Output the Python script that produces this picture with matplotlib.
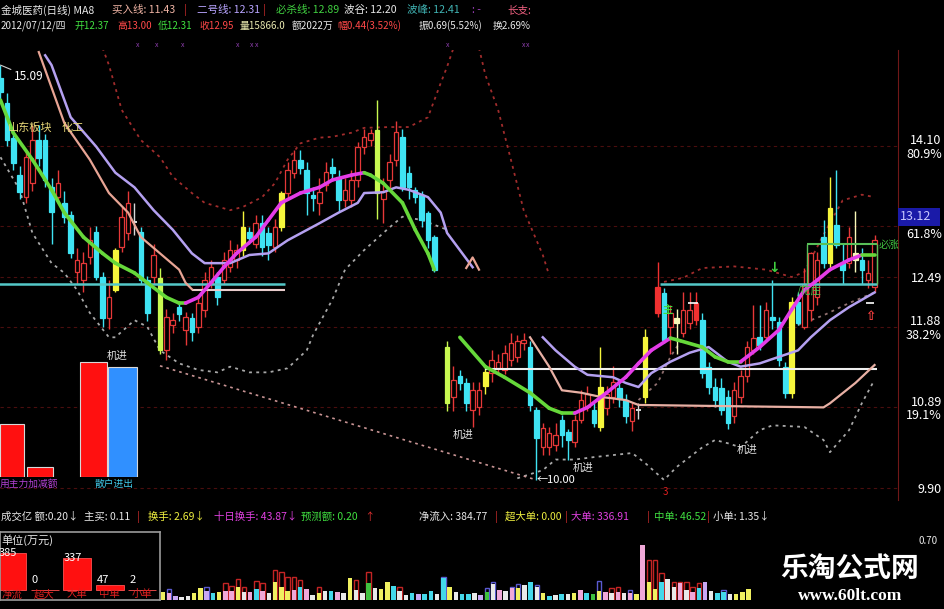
import numpy as np
import matplotlib
matplotlib.use("Agg")
import matplotlib.pyplot as plt
from matplotlib.patches import Rectangle

plt.rcParams['font.family'] = ['Noto Sans CJK SC', 'DejaVu Sans']
plt.rcParams['axes.unicode_minus'] = False

N = np.nan

# ---------------- candle data (index = trading day slot) ----------------
candle_open = [
    14.93, 14.62, 14.19, 13.74, 13.47, 13.64, 14.17, 14.17, 13.59, 13.47,
    13.40, 13.25, 12.55, 12.45, 12.73, 13.04, 12.49, 11.99, 12.82, 12.86,
    13.03, 13.17, 13.04, 12.45, 12.49, 12.48, 11.60, 11.90, 12.12, 11.84,
    11.99, 11.88, 12.09, 12.41, 12.49, 12.45, 12.61, 12.70, 12.82, 13.04,
    12.90, 13.15, 13.03, 12.86, 13.10, 13.52, 13.77, 13.93, 13.80, 13.50,
    13.40, 13.62, 13.84, 13.72, 13.43, 13.43, 13.68, 14.09, 14.17, 14.29,
    13.45, 13.68, 13.93, 14.21, 13.76, 13.56, 13.50, 13.27, 12.98, N,
    11.63, 11.02, 11.27, 11.19, 10.86, 10.90, 11.15, 11.31, 11.37, 11.35,
    11.47, 11.51, 11.68, 11.63, 10.86, 10.40, 10.40, 10.43, 10.74, 10.59,
    10.47, 10.74, 10.90, 10.86, 10.65, 10.88, 11.02, 11.13, 10.98, 10.72,
    10.86, 11.02, N, 12.37, 12.29, 11.88, 11.99, 11.80, 11.93, 12.17,
    11.96, 11.39, 11.14, 11.13, 11.02, 10.78, 11.02, 11.27, 11.59, 11.75,
    11.75, 12.00, 11.94, 11.39, 11.07, 12.18, 11.88, 12.08, 12.24, 12.98,
    12.66, 13.13, 12.66, 12.66, 12.78, 12.70, 12.45, 12.37]
candle_close = [
    14.76, 14.17, 13.89, 13.53, 13.96, 14.17, 13.95, 13.68, 13.29, 13.64,
    13.23, 12.78, 12.70, 12.66, 12.94, 12.49, 11.99, 12.24, 12.33, 13.23,
    13.40, 13.17, 12.45, 12.05, 12.76, 11.60, 12.00, 11.96, 12.04, 12.00,
    11.82, 12.17, 12.45, 12.61, 12.24, 12.70, 12.82, 12.82, 13.10, 12.97,
    13.15, 12.86, 12.88, 13.10, 13.52, 13.80, 13.93, 13.83, 13.52, 13.46,
    13.53, 13.78, 13.76, 13.43, 13.56, 13.68, 14.09, 14.21, 14.26, 13.52,
    13.55, 13.90, 14.27, 13.60, 13.59, 13.47, 13.19, 12.94, 12.58, N,
    10.94, 11.23, 11.19, 10.94, 11.10, 11.10, 11.33, 11.47, 11.45, 11.56,
    11.68, 11.70, 11.72, 10.92, 10.51, 10.64, 10.58, 10.55, 10.55, 10.49,
    10.74, 10.98, 11.05, 10.70, 11.14, 11.05, 11.20, 10.99, 10.78, 10.88,
    10.86, 11.75, N, 12.05, 11.72, 12.05, 11.93, 12.08, 12.08, 11.96,
    11.31, 11.14, 10.98, 10.86, 10.70, 11.10, 11.27, 11.63, 11.74, 11.65,
    12.08, 11.96, 11.47, 11.07, 12.18, 11.93, 12.39, 12.78, 12.70, 12.66,
    13.34, 12.88, 12.58, 12.98, 12.70, 12.58, 12.54, 12.95]
candle_high = [
    15.09, 14.75, 14.25, 13.85, 14.05, 14.35, 14.35, 14.25, 13.70, 13.80,
    13.55, 13.30, 12.85, 12.80, 13.10, 13.12, 12.55, 12.45, 12.85, 13.35,
    13.55, 13.40, 13.10, 12.50, 12.90, 12.60, 12.10, 12.05, 12.20, 12.06,
    12.05, 12.25, 12.55, 12.70, 12.55, 12.80, 12.95, 12.90, 13.30, 13.10,
    13.25, 13.25, 13.10, 13.20, 13.55, 13.90, 14.05, 14.05, 13.90, 13.60,
    13.70, 13.90, 13.95, 13.80, 13.70, 13.80, 14.15, 14.30, 14.30, 14.66,
    13.70, 14.00, 14.40, 14.30, 13.85, 13.60, 13.55, 13.30, 13.00, N,
    11.70, 11.40, 11.35, 11.25, 11.20, 11.20, 11.40, 11.60, 11.55, 11.65,
    11.80, 11.78, 11.80, 11.70, 10.90, 10.70, 10.65, 10.70, 10.80, 10.62,
    10.80, 11.10, 11.15, 10.95, 11.63, 11.15, 11.40, 11.20, 11.05, 10.95,
    10.95, 11.85, N, 12.67, 12.35, 12.15, 12.10, 12.30, 12.30, 12.30,
    12.05, 11.45, 11.25, 11.25, 11.10, 11.20, 11.35, 11.70, 12.15, 12.15,
    12.18, 12.45, 12.00, 11.45, 12.25, 12.30, 12.60, 12.80, 12.80, 13.19,
    13.72, 13.80, 12.90, 13.10, 13.30, 12.85, 12.70, 13.00]
candle_low = [
    14.66, 14.10, 13.80, 13.45, 13.40, 13.55, 13.85, 13.60, 12.90, 13.40,
    13.15, 12.72, 12.40, 12.30, 12.65, 12.45, 11.88, 11.85, 12.30, 12.80,
    12.95, 13.00, 12.40, 11.95, 12.40, 11.55, 11.47, 11.80, 11.95, 11.65,
    11.70, 11.80, 12.00, 12.35, 12.15, 12.40, 12.55, 12.60, 12.75, 12.90,
    12.85, 12.75, 12.70, 12.80, 13.05, 13.45, 13.70, 13.75, 13.25, 13.30,
    13.25, 13.55, 13.70, 13.30, 13.35, 13.35, 13.60, 14.00, 14.10, 13.20,
    13.15, 13.55, 13.85, 13.55, 13.45, 13.40, 13.10, 12.85, 12.55, N,
    10.85, 10.85, 11.10, 10.85, 10.65, 10.80, 11.05, 11.20, 11.30, 11.30,
    11.40, 11.45, 11.60, 10.85, 10.00, 10.30, 10.30, 10.35, 10.40, 10.25,
    10.40, 10.70, 10.85, 10.65, 10.60, 10.80, 10.95, 10.90, 10.70, 10.60,
    10.75, 10.95, N, 12.00, 11.68, 11.55, 11.55, 11.75, 11.85, 11.90,
    11.25, 11.05, 10.90, 10.80, 10.62, 10.70, 10.95, 11.20, 11.55, 11.60,
    11.70, 11.85, 11.40, 11.00, 11.00, 11.90, 11.85, 11.95, 12.15, 12.60,
    12.60, 12.85, 12.40, 12.60, 12.55, 12.40, 12.35, 12.31]
# c=down(cyan) r=up(hollow red) R=solid red y=yellow g=yellow-green w=doji l=pale
candle_kind = ("ccccrrcccr" "ccrrrccryr" "rwccrgrrcr" "crrrcrrryc" "rccryrrccc"
               "rrccrrrrrg" "rrrcccccc-" "grccrryrrr" "rrrccrrrcc" "rrrcyrrccr"
               "wy-RcrlrrR" "cccccrrrrc" "rcccycrrrc" "yccrlcrr")

# ---------------- indicator lines (day index, price) ----------------
ma1_idx = [0, 2, 5, 8, 10, 13, 16, 18, 21, 23, 26, 28, 29, 31, 33, 35, 37, 40, 42, 44,
           47, 50, 52, 55, 57, 58, 60, 63, 65, 67, 68]
ma1_val = [14.66, 14.26, 13.93, 13.56, 13.28, 12.98, 12.78, 12.66, 12.54, 12.42, 12.24,
           12.17, 12.17, 12.24, 12.42, 12.61, 12.78, 12.98, 13.19, 13.40, 13.52, 13.59,
           13.68, 13.74, 13.77, 13.74, 13.64, 13.40, 13.07, 12.78, 12.58]
ma2_idx = [72, 76, 79, 83, 86, 88, 90, 92, 95, 98, 100, 102, 105, 106, 110, 112, 114, 116,
           119, 122, 124, 126, 128, 130, 133, 135, 137]
ma2_val = [11.75, 11.39, 11.26, 11.07, 10.88, 10.82, 10.82, 10.89, 11.07, 11.26, 11.43,
           11.59, 11.74, 11.72, 11.63, 11.51, 11.45, 11.45, 11.63, 11.84, 12.09, 12.33,
           12.45, 12.58, 12.70, 12.76, 12.76]
line2_1_idx = [7, 8, 11, 15, 18, 21, 24, 27, 30, 32, 36, 39, 42, 45, 50, 53, 56, 57, 60, 62,
               64, 67, 69, 70, 74]
line2_1_val = [15.21, 15.09, 14.45, 14.09, 13.77, 13.59, 13.31, 13.07, 12.78, 12.66, 12.66,
               12.76, 12.78, 12.94, 13.15, 13.28, 13.40, 13.52, 13.53, 13.59, 13.56, 13.47,
               13.28, 13.03, 12.61]
line2_2_idx = [85, 87, 90, 92, 96, 98, 100, 102, 105, 108, 111, 114, 116, 119, 122, 125, 127,
               130, 133, 137]
line2_2_val = [11.75, 11.59, 11.39, 11.29, 11.26, 11.19, 11.14, 11.31, 11.45, 11.56, 11.63,
               11.45, 11.39, 11.43, 11.51, 11.59, 11.75, 11.96, 12.12, 12.30]
buy1_idx = [6, 10, 14, 17, 20, 22, 25, 28, 29, 30]
buy1_val = [15.25, 14.38, 13.93, 13.52, 13.28, 12.98, 12.78, 12.58, 12.42, 12.34]
buy1b_idx = [73, 74, 75]
buy1b_val = [12.60, 12.73, 12.58]
buy2_idx = [83, 86, 88, 91, 94, 98, 100, 129, 130, 134, 137]
buy2_val = [11.75, 11.39, 11.10, 11.07, 11.02, 10.98, 10.92, 10.89, 10.94, 11.19, 11.41]
upper1_idx = [16, 17, 19, 22, 25, 27, 30, 32, 36, 38, 41, 43, 45, 47, 50, 52, 55, 57, 61,
              64, 67, 69, 70, 71]
upper1_val = [15.30, 15.09, 14.54, 14.17, 13.96, 13.72, 13.52, 13.40, 13.31, 13.35, 13.47,
              13.64, 13.93, 14.13, 14.20, 14.21, 14.26, 14.32, 14.33, 14.33, 14.45, 14.87,
              15.07, 15.30]
upper2_idx = [75, 76, 78, 80, 82, 85, 86, N, 104, 107, 110, 115, 120, 124, 126, 129, 132,
              135, 137]
upper2_val = [15.30, 14.97, 14.54, 13.93, 13.31, 12.76, 12.51, N, 12.43, 12.48, 12.60, 12.62,
              12.58, 12.49, 12.55, 13.01, 13.43, 13.50, 13.47]
lower1_idx = [0, 3, 5, 8, 10, 12, 14, 17, 18, 21, 23, 25, 28, 31, 34, 36, 39, 42, 45, 48,
              49, 52, 54, 57, 61, 63, 66, 70]
lower1_val = [13.96, 13.56, 13.03, 12.66, 12.54, 12.33, 12.05, 11.75, 11.75, 11.96, 11.88,
              11.59, 11.43, 11.35, 11.32, 11.39, 11.32, 11.32, 11.37, 11.59, 11.78, 12.21,
              12.58, 12.82, 13.10, 13.23, 13.19, 13.07]
lower2_idx = [81, 85, 87, 90, 93, 99, 101, 104, 106, 110, 112, 114, 116, 119, 121, 126, 129,
              130, 133, 135, 137]
lower2_val = [10.02, 10.12, 10.25, 10.25, 10.28, 10.33, 10.21, 10.00, 10.16, 10.40, 10.49,
              10.45, 10.40, 10.61, 10.67, 10.65, 10.49, 10.34, 10.61, 10.94, 11.23]
inner2_idx = [100, 103, 105, 107, N, 125, 129, 133, 137]
inner2_val = [10.98, 11.19, 11.51, 11.75, N, 11.90, 12.02, 12.17, 12.30]
trend_idx = [25, 84]
trend_val = [11.40, 10.00]

peak_level = 12.41      # 波峰
kill_level = 12.89      # 必杀线
pink_level = 12.33
white_level = 11.36

# ---------------- right axis ----------------
price_ticks = [14.10, 13.11, 12.49, 11.88, 10.89, 9.90]
tick_text = ["14.10\n80.9%", "13.11\n61.8%", "12.49", "11.88\n38.2%", "10.89\n19.1%", "9.90"]
last_price = "13.12"

# ---------------- volume ----------------
vol_fill = [25, 20, 12, 10, 12, 20, 35, 28, 22, 25, 28, 28, 40, 25, 25, 32, 28, 22, 55, 40,
            28, 30, 40, 32, 15, 22, 28, 28, 25, 20, 65, 30, 20, 50, 35, 32, 55, 42, 28, 15,
            22, 18, 18, 27, 18, 65, 40, 25, 18, 18, 22, 15, 25, 48, 30, 28, 35, 35, 45, 55,
            40, 20, 12, 15, 18, 18, 20, 30, 22, 18, 28, 25, 22, 25, 20, 22, 18, 165, 55, 32,
            55, 62, 40, 50, 30, 25, 35, 55, 28, 22, 25, 18, 18, 25, 32]
vol_kind = ("yplwwyylcyppywpcpwyyypcpwywcpwywwgwyycwwclccwcywc"
            "cwlgwpwpywcwycwcwypcgypwpwpypyycwwpwpclwccwyy")
vol_outline = [0, 32, 0, 0, 0, 0, 0, 40, 0, 0, 50, 42, 62, 40, 0, 58, 50, 0, 90, 85,
               70, 68, 60, 0, 0, 40, 0, 0, 0, 0, 0, 60, 0, 85, 0, 0, 0, 0, 40, 0,
               0, 0, 0, 0, 0, 70, 0, 0, 0, 0, 0, 0, 35, 55, 0, 0, 40, 48, 0, 0,
               45, 0, 0, 0, 0, 0, 0, 0, 0, 0, 58, 0, 35, 40, 0, 30, 0, 0, 120, 120,
               80, 0, 55, 55, 55, 40, 50, 0, 0, 0, 30, 0, 0, 0, 0]
vol_outline_kind = (".b.....b..rrrr.rr.rrrrr..r.....r.r....r......b......bb..bb..b"
                    ".........b.rr.b..rrr.rrrrr...b....")

flow_labels = ["净流", "超大", "大单", "中单", "小单"]
flow_values = [385, 0, 337, 47, 2]

force_values = [53, 10, 115]   # 主力加减额 bars
retail_values = [110]          # 散户进出 bar

# ======================================================================
W, H = 945.0, 609.0
def fx(x): return x / W
def fy(y): return 1.0 - y / H

fig = plt.figure(figsize=(9.45, 6.09), dpi=100, facecolor='black')

ax = fig.add_axes([0, fy(500), fx(898), 450 / H])
ax.set_facecolor('black')
ax.set_xlim(-0.5 / 6.38, 897.5 / 6.38)
ax.set_ylim(12.49 - 223 / 81.5, 12.49 + 227 / 81.5)
for s in ['left', 'top', 'bottom']:
    ax.spines[s].set_visible(False)
ax.spines['right'].set_color('#701818')
ax.set_xticks([])
ax.yaxis.tick_right()
ax.set_yticks(price_ticks)
ax.set_yticklabels(tick_text)
ax.tick_params(axis='y', length=0, pad=31.5, labelsize=9, colors='white')
for t in ax.get_yticklabels():
    t.set_horizontalalignment('right')
    t.set_multialignment('right')
    t.set_linespacing(1.05)
ax.yaxis.grid(True, color='#4a0e0e', ls=(0, (3, 3)), lw=0.8)
ax.set_axisbelow(True)

o = np.array(candle_open, float); c = np.array(candle_close, float)
h = np.array(candle_high, float); l = np.array(candle_low, float)
kcol = {'c': '#3fe3f3', 'r': '#e63838', 'R': '#f03030', 'y': '#f5f53c',
        'g': '#c8f850', 'w': '#d8d8d8', 'l': '#f8f8b8'}
for i, k in enumerate(candle_kind):
    if k == '-' or np.isnan(o[i]):
        continue
    col = kcol[k]
    ax.vlines(i, l[i], h[i], color=col, lw=1.0, zorder=3)
    lo, hi = min(o[i], c[i]), max(o[i], c[i])
    if hi - lo < 0.03:
        ax.hlines((lo + hi) / 2, i - 0.38, i + 0.38, color=col, lw=1.4, zorder=3.5)
        continue
    face = 'black' if k == 'r' else col
    ax.bar(i, hi - lo, bottom=lo, width=0.72, color=face, edgecolor=col,
           linewidth=0.9, zorder=3.5)

dot = (0, (1.6, 2.4))
ax.plot(upper1_idx, upper1_val, color='#a02c2c', ls=dot, lw=1.3, zorder=2)
ax.plot(upper2_idx, upper2_val, color='#a02c2c', ls=dot, lw=1.3, zorder=2)
ax.plot(lower1_idx, lower1_val, color='#a8a8a8', ls=dot, lw=1.3, zorder=2)
ax.plot(lower2_idx, lower2_val, color='#a8a8a8', ls=dot, lw=1.3, zorder=2)
ax.plot(inner2_idx, inner2_val, color='#907070', ls=dot, lw=1.3, zorder=2)
ax.plot(trend_idx, trend_val, color='#c89494', ls=dot, lw=1.2, zorder=2)

# horizontal levels
ax.hlines(peak_level, -1, 44.6, color='#54c8c8', lw=1.8, zorder=4)
ax.hlines(pink_level, 30, 44.6, color='#e8cccc', lw=1.5, zorder=4)
ax.hlines(peak_level, 103.4, 137.4, color='#54c8c8', lw=1.8, zorder=4)
ax.hlines(white_level, 76, 137.4, color='#eeeeee', lw=1.5, zorder=4)
ax.hlines(kill_level, 126.4, 137.4, color='#58c058', lw=1.5, zorder=4)
ax.vlines([126.4, 137.4], peak_level, kill_level, color='#58c058', lw=1.0, zorder=4)
ax.hlines(12.17, 107.8, 109.3, color='white', lw=1.2, zorder=4)
ax.hlines(12.17, 135.6, 136.9, color='white', lw=1.2, zorder=4)

ax.plot(line2_1_idx, line2_1_val, color='#b4a0f0', lw=1.8, zorder=5)
ax.plot(line2_2_idx, line2_2_val, color='#b4a0f0', lw=1.8, zorder=5)
ax.plot(buy1_idx, buy1_val, color='#e8a494', lw=1.6, zorder=5)
ax.plot(buy1b_idx, buy1b_val, color='#e8a494', lw=1.6, zorder=5)
ax.plot(buy2_idx, buy2_val, color='#e8b0a4', lw=1.6, zorder=5)

def two_color(xs, ys):
    for k in range(len(xs) - 1):
        col = '#e43ce8' if ys[k + 1] > ys[k] else '#66d83a'
        ax.plot(xs[k:k + 2], ys[k:k + 2], color=col, lw=2.6,
                solid_capstyle='round', zorder=6)
two_color(ma1_idx, ma1_val)
two_color(ma2_idx, ma2_val)

ax.annotate('15.09', xy=(0, 15.09), xytext=(9.5, -8.5), textcoords='offset points',
            color='white', fontsize=8.5, ha='left', va='center',
            arrowprops=dict(arrowstyle='-', color='#d0d0d0', lw=0.8, shrinkA=0, shrinkB=0))
ax.annotate('←10.00', xy=(84, 10.00), xytext=(0, 0), textcoords='offset points',
            color='white', fontsize=8, ha='left', va='center')

# last price box (covers the 13.11 label as in the terminal)
fig.patches.append(Rectangle((fx(898), fy(226)), 42 / W, 18 / H, transform=fig.transFigure,
                             facecolor='#1a1aa8', edgecolor='none', zorder=5))
fig.text(fx(900), fy(217), last_price, color='#c8c8ff', fontsize=9, ha='left',
         va='center', zorder=6)

# ---------------- overlay bars (主力 / 散户) ----------------
axm = fig.add_axes([0, fy(477), fx(140), 137 / H])
axm.patch.set_visible(False)
axm.set_xlim(0, 140); axm.set_ylim(0, 137); axm.axis('off')
axm.bar([0, 27, 80], force_values, width=[24, 26, 27], align='edge', color='#ff1010',
        edgecolor='#d8d8d8', linewidth=0.8)
axm.bar([108], retail_values, width=[29], align='edge', color='#3090ff',
        edgecolor='#d8d8d8', linewidth=0.8)

# ---------------- volume panel ----------------
axv = fig.add_axes([fx(160), fy(600), fx(600), 72 / H])
axv.set_facecolor('black')
axv.set_xlim(-3 / 6.23, 597 / 6.23)
axv.set_ylim(0, 216)
axv.axis('off')
vj = np.arange(len(vol_fill))
ocol = {'r': '#c42424', 'b': '#5a5ad0'}
for j in vj:
    if vol_outline[j] > 0:
        axv.bar(j, vol_outline[j], width=0.72, facecolor='none',
                edgecolor=ocol[vol_outline_kind[j]], linewidth=1.0)
vcol = {'y': '#f0f060', 'p': '#f0a8d8', 'l': '#c8a8f4', 'w': '#e8e8e8',
        'c': '#44d8ea', 'g': '#40c040'}
axv.bar(vj, vol_fill, width=0.72, color=[vcol[k] for k in vol_kind], linewidth=0)

# flow box
axf = fig.add_axes([0, fy(600), fx(160), 68 / H])
axf.set_facecolor('black')
axf.set_xlim(-0.37, 4.55)
axf.set_ylim(-104, 603)
axf.set_xticks([]); axf.set_yticks([])
for s in axf.spines.values():
    s.set_color('#9a9a9a'); s.set_linewidth(1.2)
fk = np.arange(len(flow_values))
axf.bar(fk, flow_values, width=0.86, color='#ff1010', edgecolor='#ff5050', linewidth=0.6)
for k, v in zip(fk, flow_values):
    axf.text(k - 0.4, max(v, 104), str(v), color='white', fontsize=8, ha='left', va='center')
    axf.text(k, -45, flow_labels[k], color='#e02020', fontsize=7.5, ha='center', va='center')
fig.text(fx(1), fy(540), "单位(万元)", color='#e8e8e8', fontsize=8, ha='left', va='center')

# ---------------- texts ----------------
def T(x, y, s, col, size=8.0, **kw):
    fig.text(fx(x), fy(y), s, color=col, fontsize=size, ha=kw.pop('ha', 'left'),
             va=kw.pop('va', 'center'), **kw)

header1 = [(1, "金城医药(日线) MA8", '#e8e8e8'), (112, "买入线: 11.43", '#f0b4a4'),
           (184, "|", '#e03030'), (197, "二号线: 12.31", '#b8a4ff'),
           (263, "|", '#e03030'), (276, "必杀线: 12.89", '#40d040'),
           (344, "波谷: 12.20", '#e8e8e8'), (407, "波峰: 12.41", '#40b4b4'),
           (472, ": -", '#a040c0'), (507, "长支:", '#f06080')]
for x, s, col in header1:
    T(x, 10, s, col, 7.6)
header2 = [(1, "2012/07/12/四", '#e8e8e8'), (75, "开12.37", '#40e040'),
           (117, "高13.00", '#ff4848'), (158, "低12.31", '#40e040'),
           (199, "收12.95", '#ff4848'), (240, "量15866.0", '#e8e8b0'),
           (292, "额2022万", '#e8e8e8'), (337, "幅0.44(3.52%)", '#ff4848'),
           (419, "振0.69(5.52%)", '#e8e8e8'), (493, "换2.69%", '#e8e8e8')]
for x, s, col in header2:
    T(x, 26, s, col, 7.1)
for x in [138, 157, 183, 238, 252, 257, 448, 524, 528]:
    T(x, 45, "x", '#9040b0', 5, ha='center')

ind_row = [(1, "成交亿 额:0.20↓", '#e8e8e8'), (84, "主买: 0.11", '#e8e8e8'),
           (137, "|", '#e03030'), (148, "换手: 2.69↓", '#f0f040'),
           (214, "十日换手: 43.87↓", '#e040e0'), (301, "预测额: 0.20", '#40e040'),
           (364, "↑", '#e03030'), (419, "净流入: 384.77", '#e8e8e8'),
           (495, "|", '#e03030'), (505, "超大单: 0.00", '#f0f040'),
           (565, "|", '#e03030'), (571, "大单: 336.91", '#e040e0'),
           (647, "|", '#e03030'), (654, "中单: 46.52", '#40e040'),
           (707, "|", '#e03030'), (713, "小单: 1.35↓", '#e8e8e8')]
for x, s, col in ind_row:
    T(x, 517, s, col, 7.5)

T(8, 128, "山东板块", '#e8d878', 8)
T(62, 128, "化工", '#e8d878', 8)
for x, y in [(117, 356), (463, 435), (583, 468), (747, 450)]:
    T(x, y, "机进", '#e0e0e0', 7.5, ha='center')
T(0, 484, "用主力加减额", '#b040d0', 7)
T(95, 484, "散户进出", '#40c8e8', 7)
T(879, 245, "必涨", '#40c040', 7.5)
T(668, 310, "主", '#40e040', 7.5, ha='center', weight='bold')
T(797, 290, "/花庄", '#50c050', 7.5)
T(774, 268, "↓", '#40d040', 10, ha='center', family='DejaVu Sans', weight='bold')
T(870, 316, "⇧", '#ff4040', 9, ha='center', family='DejaVu Sans', weight='bold')
T(665, 492, "3", '#e02020', 7, ha='center')
T(919, 541, "0.70", '#e8e8e8', 7, ha='left')

fig.text(fx(850), fy(570), "乐淘公式网", color='white', fontsize=20, weight='bold',
         ha='center', va='center')
fig.text(fx(850), fy(596), "www.60lt.com", color='white', fontsize=12.5, weight='bold',
         family='Liberation Serif', ha='center', va='center')

fig.savefig('out.png', dpi=100, facecolor='black')
